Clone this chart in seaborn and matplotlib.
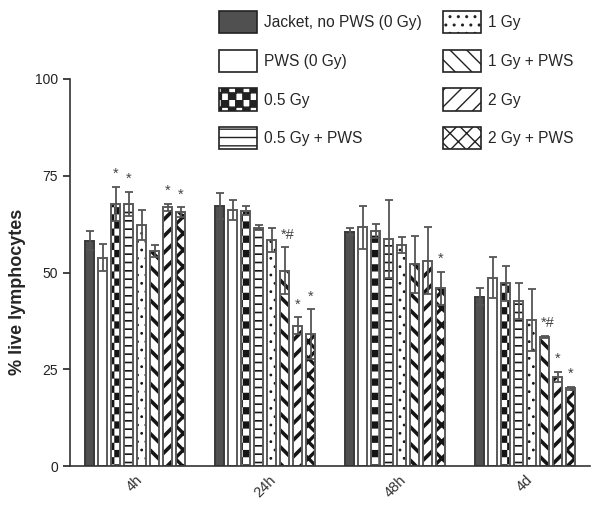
import warnings
import numpy as np
import pandas as pd
import seaborn as sns
import matplotlib.pyplot as plt
import matplotlib.hatch as mhatch
from matplotlib.path import Path
from matplotlib.patches import Patch

warnings.filterwarnings("ignore")

# ---- data ----
times = ["4h", "24h", "48h", "4d"]
groups = ["Jacket, no PWS (0 Gy)", "PWS (0 Gy)", "0.5 Gy", "0.5 Gy + PWS",
          "1 Gy", "1 Gy + PWS", "2 Gy", "2 Gy + PWS"]

jacket = [58.2, 67.2, 60.5, 43.7]
pws = [53.8, 66.1, 61.7, 48.6]
gy05 = [67.8, 66.0, 60.7, 47.2]
gy05_pws = [67.8, 61.6, 58.6, 42.6]
gy1 = [62.3, 58.4, 57.1, 37.7]
gy1_pws = [55.6, 50.5, 52.1, 33.3]
gy2 = [66.9, 36.3, 53.1, 23.1]
gy2_pws = [65.6, 34.1, 45.9, 20.1]

jacket_err = [2.4, 3.3, 0.9, 2.2]
pws_err = [3.5, 2.6, 5.5, 5.3]
gy05_err = [4.4, 1.1, 1.8, 4.6]
gy05_pws_err = [3.1, 0.6, 10.1, 4.6]
gy1_err = [3.8, 3.2, 2.0, 8.0]
gy1_pws_err = [1.5, 6.0, 7.4, 0.3]
gy2_err = [0.9, 2.1, 8.7, 1.3]
gy2_pws_err = [1.2, 6.5, 4.3, 0.4]

# significance marks per group, one per time point
marks = {
    "0.5 Gy": ["*", "", "", ""],
    "0.5 Gy + PWS": ["*", "", "", ""],
    "1 Gy + PWS": ["", "*#", "", "*#"],
    "2 Gy": ["*", "*", "", "*"],
    "2 Gy + PWS": ["*", "*", "*", "*"],
}


# checkerboard hatch ('c'), matplotlib has none built in
class CheckerHatch(mhatch.HatchPatternBase):
    def __init__(self, hatch, density):
        self.n = hatch.count("c") * 14
        self.num_vertices = (self.n * self.n // 2) * 5

    def set_vertices_and_codes(self, vertices, codes):
        s = 1.0 / self.n
        k = 0
        for i in range(self.n):
            for j in range(self.n):
                if (i + j) % 2:
                    continue
                x0, y0 = i * s, j * s
                vertices[k:k + 5] = [(x0, y0), (x0 + s, y0), (x0 + s, y0 + s),
                                     (x0, y0 + s), (x0, y0)]
                codes[k:k + 5] = [Path.MOVETO, Path.LINETO, Path.LINETO,
                                  Path.LINETO, Path.CLOSEPOLY]
                k += 5


mhatch._hatch_types.append(CheckerHatch)

hatches = ["", "", "c", "--", "..", "\\\\", "//", "xx"]
hatch_lw = [1, 1, 0.1, 1.2, 0.8, 2.6, 2.6, 2.4]
fills = {g: ("#505050" if i == 0 else "white") for i, g in enumerate(groups)}
edges = {g: ("#3a3a3a" if i == 0 else "#5a5a5a") for i, g in enumerate(groups)}

rows = []
for g, m, e in zip(groups, [jacket, pws, gy05, gy05_pws, gy1, gy1_pws, gy2, gy2_pws],
                   [jacket_err, pws_err, gy05_err, gy05_pws_err, gy1_err, gy1_pws_err,
                    gy2_err, gy2_pws_err]):
    for t, v, er in zip(times, m, e):
        rows.append((t, g, v, er))
df = pd.DataFrame(rows, columns=["time", "group", "value", "err"])

sns.set_style("ticks")
plt.rcParams["font.family"] = ["Liberation Sans", "DejaVu Sans"]
per_artist = hasattr(Patch, "set_hatch_linewidth")
if not per_artist:
    plt.rcParams["hatch.linewidth"] = 2.0

fig = plt.figure(figsize=(6, 5.05), dpi=100)
ax = fig.add_axes([70 / 600, 39 / 505, 520 / 600, 387 / 505])

# filled + hatched layer
sns.barplot(data=df, x="time", y="value", hue="group", order=times, hue_order=groups,
            palette=fills, saturation=1, errorbar=None, width=0.8, gap=0.28,
            linewidth=0, legend=False, ax=ax)
for cont, h, hl in zip(ax.containers, hatches, hatch_lw):
    for p in cont:
        p.set_hatch(h)
        p.set_edgecolor("#151515")
        p.set_linewidth(0)
        if per_artist:
            p.set_hatch_linewidth(hl)

# outline layer
sns.barplot(data=df, x="time", y="value", hue="group", order=times, hue_order=groups,
            palette=edges, saturation=1, errorbar=None, width=0.8, gap=0.28,
            fill=False, linewidth=1.4, legend=False, ax=ax)

for cont, g in zip(ax.containers[:8], groups):
    xs = [p.get_x() + p.get_width() / 2 for p in cont]
    sub = df[df.group == g]
    ax.errorbar(xs, sub.value, yerr=sub.err, fmt="none", ecolor="#555555",
                elinewidth=1.3, capsize=3, capthick=1.3, zorder=4)
    for x, top, m in zip(xs, sub.value + sub.err, marks.get(g, [""] * 4)):
        if m:
            ax.annotate(m, (x, top), xytext=(2 if len(m) > 1 else 0, 4),
                        textcoords="offset points", ha="center", va="bottom",
                        fontsize=10.5, color="#444444")

ax.set_ylim(0, 100)
ax.set_xlim(-0.5, 3.5)
ax.set_yticks([0, 25, 50, 75, 100])
ax.set_xlabel("")
ax.set_ylabel("% live lymphocytes", fontsize=13, fontweight="bold")
ax.yaxis.set_label_coords(-0.085, 0.45)
ax.tick_params(axis="x", length=0, labelsize=10.5, pad=5, labelcolor="#333333")
ax.tick_params(axis="y", length=5, width=1.2, labelsize=10, colors="#222222")
plt.setp(ax.get_xticklabels(), rotation=45)
for s in ["top", "right"]:
    ax.spines[s].set_visible(False)
for s in ["left", "bottom"]:
    ax.spines[s].set_linewidth(1.2)
    ax.spines[s].set_color("#333333")

handles = []
for i, g in enumerate(groups):
    hp = Patch(facecolor=fills[g], edgecolor="#222222", hatch=hatches[i], linewidth=1.2)
    if per_artist:
        hp.set_hatch_linewidth(hatch_lw[i])
    handles.append(hp)
fig.legend(handles, groups, ncol=2, loc="upper left",
           bbox_to_anchor=(219 / 600, 1 - 11 / 505), frameon=False, fontsize=11.2,
           handlelength=2.45, handleheight=1.82, handletextpad=0.45,
           labelspacing=1.06, columnspacing=1.33, borderpad=0, borderaxespad=0)

fig.savefig("out.png", dpi=100)
